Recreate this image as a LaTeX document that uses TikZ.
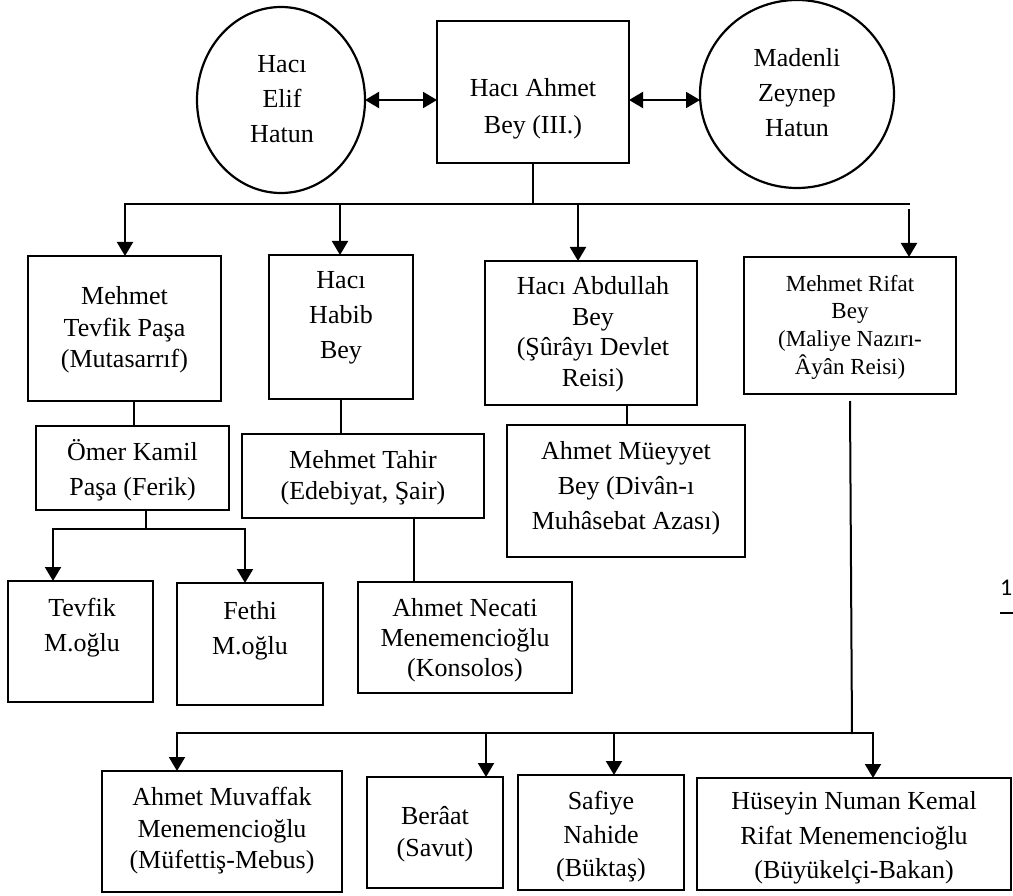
\documentclass[tikz,border=0pt]{standalone}
\usepackage{fontspec}
\setmainfont{Liberation Serif}
\newfontfamily\calfont{Carlito}
\usetikzlibrary{arrows.meta,shapes.geometric}
\newcommand{\myfs}[2]{\fontsize{#1}{#2}\selectfont}
\begin{document}
\begin{tikzpicture}[x=1pt,y=-1pt,
  box/.style={draw,line width=2.4pt,rectangle,inner sep=0pt,outer sep=0pt},
  oval/.style={draw,line width=2.2pt,ellipse,inner sep=0pt,outer sep=0pt},
  txt/.style={align=center,inner sep=0pt},
  conn/.style={line width=2pt,line cap=rect},
  arr/.style={line width=2pt,-{Triangle[length=14pt,width=16pt]}},
  darr/.style={line width=2pt,{Triangle[length=14pt,width=16pt]}-{Triangle[length=14pt,width=16pt]}}]
\useasboundingbox (0,0) rectangle (1013,896);

% top row
\node[oval,minimum width=168pt,minimum height=186pt] (elif) at (281,100) {};
\node[txt,font=\myfs{26}{35}] (elifT) at (282,99) {Hacı\\Elif\\Hatun};
\node[oval,minimum width=194pt,minimum height=188pt] (zey) at (797,94) {};
\node[txt,font=\myfs{26}{35}] (zeyT) at (797,93) {Madenli\\Zeynep\\Hatun};
\node[box,minimum width=192pt,minimum height=142pt] (ahm) at (533,92) {};
\node[txt,font=\myfs{26}{37}] (ahmT) at (533,109) {Hacı Ahmet\\Bey (III.)};

\draw[darr] (elif.east) -- (elif.east -| ahm.west);
\draw[darr] (ahm.east |- elif.east) -- (zey.west |- elif.east);

% first generation
\node[box,minimum width=193pt,minimum height=145pt] (tp) at (124.5,328.5) {};
\node[txt,font=\myfs{26}{31.5}] (tpT) at (124.5,330) {Mehmet\\Tevfik Paşa\\(Mutasarrıf)};
\node[box,minimum width=144pt,minimum height=144pt] (hb) at (341,327) {};
\node[txt,font=\myfs{26}{35}] (hbT) at (341,318) {Hacı\\Habib\\Bey};
\node[box,minimum width=212pt,minimum height=144pt] (abd) at (591,333) {};
\node[txt,font=\myfs{26}{30.5}] (abdT) at (593,334) {Hacı Abdullah\\Bey\\(Şûrâyı Devlet\\Reisi)};
\node[box,minimum width=212pt,minimum height=137pt] (rif) at (850,325.5) {};
\node[txt,font=\myfs{23}{27.7}] (rifT) at (850,327) {Mehmet Rifat\\Bey\\(Maliye Nazırı-\\Âyân Reisi)};

\coordinate (b0) at (533,204);
\coordinate (b1) at (125,204);
\coordinate (b2) at (340,204);
\coordinate (b3) at (578,204);
\coordinate (b4) at (909,204);
\coordinate (b4s) at (909,209);
\draw[conn] (ahm.south) -- (b0);
\draw[conn] (b1) -- (b4);
\draw[arr] (b1) -- (b1 |- tp.north);
\draw[arr] (b2) -- (b2 |- hb.north);
\draw[arr] (b3) -- (b3 |- abd.north);
\draw[arr] (b4s) -- (b4s |- rif.north);

% second generation
\node[box,minimum width=193pt,minimum height=84pt] (om) at (132.5,468) {};
\node[txt,font=\myfs{26}{35}] (omT) at (132.5,470.5) {Ömer Kamil\\Paşa (Ferik)};
\node[box,minimum width=242pt,minimum height=84pt] (th) at (363,476) {};
\node[txt,font=\myfs{26}{31}] (thT) at (363,477.5) {Mehmet Tahir\\(Edebiyat, Şair)};
\node[box,minimum width=238pt,minimum height=132pt] (mu) at (626,491) {};
\node[txt,font=\myfs{26}{35}] (muT) at (626,488) {Ahmet Müeyyet\\Bey (Divân-ı\\Muhâsebat Azası)};

\coordinate (c1) at (134,0);
\draw[conn] (c1 |- tp.south) -- (c1 |- om.north);
\draw[conn] (hb.south) -- (hb.south |- th.north);
\coordinate (c2) at (627,0);
\draw[conn] (c2 |- abd.south) -- (c2 |- mu.north);

% third generation
\node[box,minimum width=145pt,minimum height=121pt] (tm) at (80.5,641.5) {};
\node[txt,font=\myfs{26}{35}] (tmT) at (82,627.5) {Tevfik\\M.oğlu};
\node[box,minimum width=146pt,minimum height=122pt] (fm) at (250,644) {};
\node[txt,font=\myfs{26}{35}] (fmT) at (250,630.5) {Fethi\\M.oğlu};
\node[box,minimum width=214pt,minimum height=111pt] (nc) at (465,637.5) {};
\node[txt,font=\myfs{26}{30}] (ncT) at (465,640) {Ahmet Necati\\Menemencioğlu\\(Konsolos)};

\coordinate (d0) at (146,529);
\coordinate (d1) at (53,529);
\coordinate (d2) at (245,529);
\draw[conn] (d0 |- om.south) -- (d0);
\draw[conn] (d1) -- (d2);
\draw[arr] (d1) -- (d1 |- tm.north);
\draw[arr] (d2) -- (d2 |- fm.north);
\coordinate (c3) at (414,0);
\draw[conn] (c3 |- th.south) -- (c3 |- nc.north);

% Rifat's children
\node[box,minimum width=240pt,minimum height=121pt] (mv) at (222,831.5) {};
\node[txt,font=\myfs{26}{31.5}] (mvT) at (222,831) {Ahmet Muvaffak\\Menemencioğlu\\(Müfettiş-Mebus)};
\node[box,minimum width=136pt,minimum height=111pt] (br) at (435,832.5) {};
\node[txt,font=\myfs{26}{32}] (brT) at (435,834) {Berâat\\(Savut)};
\node[box,minimum width=166pt,minimum height=115pt] (sf) at (601,832.5) {};
\node[txt,font=\myfs{26}{33.5}] (sfT) at (601,837) {Safiye\\Nahide\\(Büktaş)};
\node[box,minimum width=314pt,minimum height=112pt] (hs) at (854,834) {};
\node[txt,font=\myfs{26}{34.5}] (hsT) at (854,838) {Hüseyin Numan Kemal\\Rifat Menemencioğlu\\(Büyükelçi-Bakan)};

\coordinate (r1) at (850,402);
\coordinate (r2) at (852,733);
\draw[conn] (r1) -- (r2);
\coordinate (e1) at (177,733);
\coordinate (e2) at (486,733);
\coordinate (e3) at (614,733);
\coordinate (e4) at (873,733);
\draw[conn] (e1) -- (e4);
\draw[arr] (e1) -- (e1 |- mv.north);
\draw[arr] (e2) -- (e2 |- br.north);
\draw[arr] (e3) -- (e3 |- sf.north);
\draw[arr] (e4) -- (e4 |- hs.north);

% page artefact at the right edge
\node[anchor=west,inner sep=0pt,font=\calfont\fontsize{24}{28}\selectfont] (pg) at (1000,588) {1};
\draw[line width=1.5pt] (1000,613) -- (1013,613);
\end{tikzpicture}
\end{document}
